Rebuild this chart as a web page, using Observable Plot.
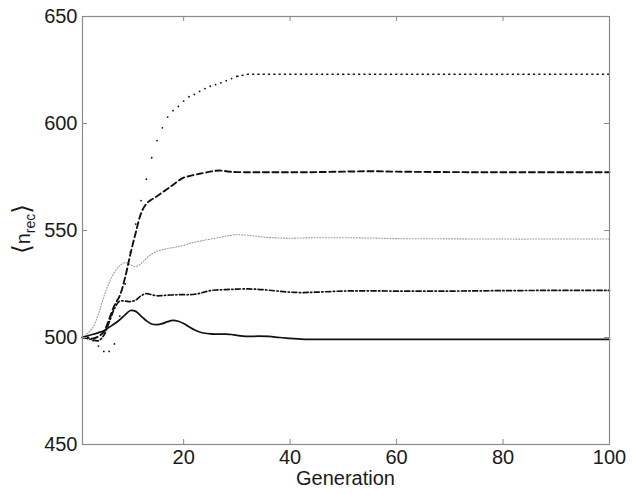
<!DOCTYPE html>
<html><head><meta charset="utf-8">
<script src="https://cdn.jsdelivr.net/npm/d3@7"></script>
<script src="https://cdn.jsdelivr.net/npm/@observablehq/plot@0.6"></script>
<style>
body{margin:0;background:#fff}
svg{font-family:"Liberation Sans",Arial,Helvetica,sans-serif}
</style>
</head><body><div id="chart"></div>
<script>
const generations = [1,2,3,4,5,6,7,8,9,10,11,12,13,14,15,16,17,18,19,20,21,22,23,24,25,26,27,28,29,30,32,34,36,38,40,42,45,50,55,60,70,80,90,100];
const solidSeries = [500,500.8,501.5,502.3,503.2,504.8,506.4,508.3,510.6,512.6,512.2,510,507.8,506.3,506,506.5,507.4,508,507.6,506.5,505,503.6,502.6,502,501.7,501.6,501.6,501.6,501.4,501,500.5,500.6,500.5,500,499.6,499.2,499.1,499.1,499.1,499.1,499.1,499.1,499.1,499.1];
const dashDotSeries = [500,499.5,498.8,498.5,501,507,513.5,517,517,516.8,517.5,519.5,520.5,520,519.5,519.6,519.8,519.9,520,520,520,520.2,520.6,521.3,521.9,522.2,522.3,522.4,522.5,522.6,522.7,522.5,522.1,521.6,521.2,521,521.2,521.7,521.8,521.7,521.7,521.9,522,522];
const dashedSeries = [500,500,499.5,500.5,502.6,508.5,515,519.5,528,539,549,558,562.5,564.5,566,567.8,569.5,571.3,573.2,574.7,575.4,576,576.5,577,577.5,577.9,578,577.7,577.4,577.3,577.2,577.2,577.2,577.2,577.2,577.2,577.3,577.5,577.7,577.5,577.3,577.2,577.2,577.2];
const grayDottedSeries = [500,502,505,511,519,525.5,530.5,533.5,535,534,533.2,534.5,537,539,540.3,541,541.6,542,542.5,543,543.8,544.5,545,545.5,546,546.4,546.9,547.4,547.8,548,547.8,547.2,546.7,546.5,546.4,546.5,546.6,546.6,546.5,546.2,546.1,546,546,546];
const blackDottedSeries = [500,499.5,498.5,496,493.5,493.5,497,510,525,540,553,564,574,584,592,598,603,606,608,610.5,612.5,613.6,615,616.3,617.4,618.2,619,620,621,622,623,623,623,623,623,623,623,623,623,623,623,623,623,623];
const xTicks = [20,40,60,80,100];
const yTicks = [450,500,550,600,650];
const xLabel = "Generation";

const W = 633, H = 495, mL = 82, mR = 24, mT = 16, mB = 51;
const plotW = W - mL - mR, plotH = H - mT - mB, tick = 5;

const series = [
  {name:"grayDotted", values:grayDottedSeries, stroke:"#9a9a9a", dash:"1,1.8", width:1.1},
  {name:"dashed", values:dashedSeries, stroke:"#111", dash:"6,3.5", width:1.9},
  {name:"dashDot", values:dashDotSeries, stroke:"#111", dash:"5,2.5,1.3,2.5", width:1.7},
  {name:"solid", values:solidSeries, stroke:"#111", dash:null, width:1.7}
];

const rowsOf = vals => generations.map((g, i) => ({gen: g, val: vals[i]}));

const lineMarks = series.map(s => Plot.line(rowsOf(s.values),
  {x: "gen", y: "val", stroke: s.stroke, strokeWidth: s.width,
   strokeDasharray: s.dash ?? undefined, curve: "catmull-rom"}
));

// black dotted series: one dot per generation while rising, a dotted line on the plateau
const blackRows = rowsOf(blackDottedSeries);
const blackMarks = [
  Plot.dot(blackRows.filter(d => d.gen <= 30), {x: "gen", y: "val", r: 0.9, fill: "#111", stroke: null}),
  Plot.line(blackRows.filter(d => d.gen >= 30), {x: "gen", y: "val", stroke: "#111", strokeWidth: 1.4, strokeDasharray: "1.2,4.1"})
];

const chart = Plot.plot({
  width: W, height: H,
  marginLeft: mL, marginRight: mR, marginTop: mT, marginBottom: mB,
  style: {fontFamily: "'Liberation Sans', Arial, sans-serif", background: "#fff"},
  x: {domain: [1, 100]},
  y: {domain: [450, 650]},
  marks: [
    ...blackMarks,
    ...lineMarks,
    Plot.frame({stroke: "#8a8a8a", strokeWidth: 1.2}),
    // inward tick marks on all four sides
    Plot.ruleX(xTicks, {x: d => d, insetTop: plotH - tick, stroke: "#8a8a8a"}),
    Plot.ruleX(xTicks, {x: d => d, insetBottom: plotH - tick, stroke: "#8a8a8a"}),
    Plot.ruleY(yTicks, {y: d => d, insetRight: plotW - tick, stroke: "#8a8a8a"}),
    Plot.ruleY(yTicks, {y: d => d, insetLeft: plotW - tick, stroke: "#8a8a8a"}),
    Plot.axisX(xTicks, {anchor: "bottom", tickSize: 0, tickPadding: 5, fontSize: 20, fill: "#1a1a1a", label: null}),
    Plot.axisY(yTicks, {anchor: "left", tickSize: 0, tickPadding: 5, fontSize: 20, fill: "#1a1a1a", label: null})
  ]
});
document.getElementById("chart").appendChild(chart);

const svg = d3.select(chart);
svg.append("text")
  .attr("x", mL + plotW / 2).attr("y", 485)
  .attr("text-anchor", "middle")
  .attr("font-size", 20).attr("fill", "#1a1a1a")
  .text(xLabel);
const yl = svg.append("text")
  .attr("transform", "translate(30,229) rotate(-90)")
  .attr("text-anchor", "middle")
  .attr("font-size", 20).attr("fill", "#1a1a1a");
yl.append("tspan").attr("font-size", 25).attr("font-family", "DejaVu Sans").text("\u27E8");
yl.append("tspan").text("n");
yl.append("tspan").attr("font-size", 14).attr("dy", 5).text("rec");
yl.append("tspan").attr("font-size", 25).attr("dy", -5).attr("font-family", "DejaVu Sans").text("\u27E9");
</script>
</body></html>
